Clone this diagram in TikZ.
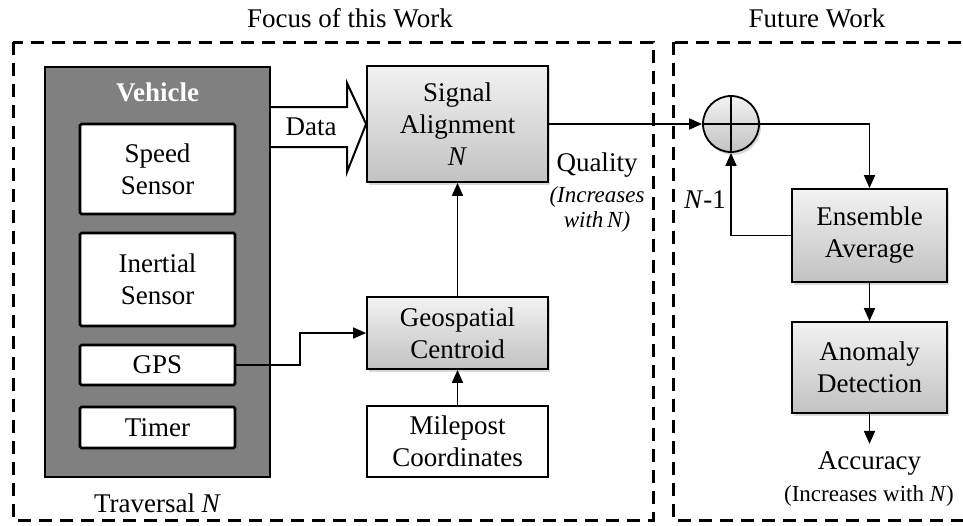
\documentclass[tikz,border=0pt]{standalone}
\usepackage{fontspec}
\setmainfont{Liberation Serif}
\usetikzlibrary{arrows.meta,shadows,calc}

\begin{document}
\begin{tikzpicture}[x=1pt,y=-1pt,
  font=\fontsize{27}{32}\selectfont,
  frame/.style={draw=black,line width=3pt,dash pattern=on 13pt off 8pt},
  sensor/.style={draw=black,fill=white,line width=2.6pt,rounded corners=1.5pt,align=center,inner sep=0pt},
  proc/.style={draw=black,line width=1.8pt,top color=gray!10,bottom color=gray!48,align=center,inner sep=0pt,
    drop shadow={opacity=0.3,shadow xshift=2pt,shadow yshift=-3pt}},
  plainbox/.style={draw=black,line width=2.4pt,fill=white,align=center,inner sep=0pt},
  link/.style={line width=1.8pt,-{Triangle[length=13pt,width=11pt]}},
  small/.style={font=\fontsize{23}{25}\selectfont}
]
\useasboundingbox (0,0) rectangle (963,525);
\clip (0,0) rectangle (963,525);

% dashed frames and their titles
\draw[frame] (13,42) rectangle (653,520);
\draw[frame] (673,42) rectangle (990,520);
\node (focus) at (350,18) {Focus of this Work};
\node (future) at (817,18) {Future Work};

% vehicle and its sensors
\node[draw=black,line width=2.4pt,fill=black!50,minimum width=225pt,minimum height=410pt,inner sep=0pt] (veh) at (157.5,272) {};
\node[text=white,font=\fontsize{27}{32}\selectfont\bfseries] (vlabel) at (157.5,92) {Vehicle};
\node[sensor,minimum width=155pt,minimum height=90pt] (speed) at (157.5,169) {Speed\\Sensor};
\node[sensor,minimum width=155pt,minimum height=93pt] (inert) at (157.5,279.5) {Inertial\\Sensor};
\node[sensor,minimum width=155pt,minimum height=40pt] (gps) at (157.5,365) {GPS};
\node[sensor,minimum width=155pt,minimum height=41pt] (timer) at (157.5,427.5) {Timer};
\node (trav) at (157.5,503) {Traversal \textit{N}};

% processing blocks
\node[proc,minimum width=181pt,minimum height=116pt] (align) at (457.5,124) {Signal\\Alignment\\\textit{N}};
\node[proc,minimum width=181pt,minimum height=72pt] (geo) at (457.5,333) {Geospatial\\Centroid};
\node[plainbox,minimum width=181pt,minimum height=71pt] (mile) at (457.5,441.5) {Milepost\\Coordinates};
\node[proc,minimum width=155pt,minimum height=93pt] (ens) at (869.5,235.5) {Ensemble\\Average};
\node[proc,minimum width=155pt,minimum height=91pt] (anom) at (869.5,367.5) {Anomaly\\Detection};
\node[circle,draw=black,line width=1.8pt,top color=gray!10,bottom color=gray!48,minimum size=56pt,inner sep=0pt,
  drop shadow={opacity=0.3,shadow xshift=2pt,shadow yshift=-3pt}] (sum) at (731,124) {};
\draw[line width=1.8pt] (sum.north) -- (sum.south) (sum.west) -- (sum.east);

% hollow data arrow
\draw[line width=2pt,fill=white,line join=miter]
  (veh.east |- 0,107) -- (347,107) -- (347,83) -- (align.west) -- (347,172) -- (347,147) -- (veh.east |- 0,147);
\node (data) at (311,127) {Data};

% connectors
\draw[link] (gps.east) -- (300,365) -- (300,333) -- (geo.west);
\draw[link] (mile.north) -- (geo.south);
\draw[link] (geo.north) -- (align.south);
\draw[link] (align.east) -- (sum.west);
\draw[link] (sum.east) -| (ens.north);
\draw[link] (ens.west) -| (sum.south);
\draw[link] (anom.south) -- ++(0,30) coordinate (accend);
\draw[link] (ens.south) -- (anom.north);

% labels
\node (quality) at (597,165) {Quality};
\node[small,font=\fontsize{23}{25}\selectfont\itshape,align=center] (qnote) at (597,209) {(Increases\\with\,N)};
\node (nm1) at (705,200) {\textit{N}-1};
\node[anchor=north] (acc) at (accend |- 0,448) {Accuracy};
\node[small] (accnote) at (869,496) {(Increases with \textit{N})};
\end{tikzpicture}
\end{document}
